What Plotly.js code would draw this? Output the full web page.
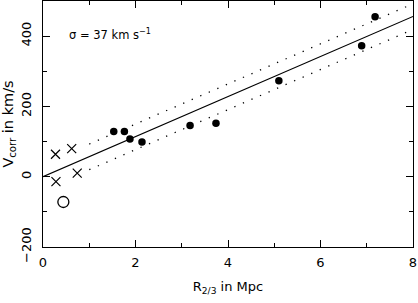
<!DOCTYPE html>
<html>
<head>
<meta charset="utf-8">
<script src="https://cdn.plot.ly/plotly-3.0.1.min.js"></script>
<style>
  html, body { margin: 0; padding: 0; background: #fff; }
  #plot { width: 418px; height: 303px; }
</style>
</head>
<body>
<div id="plot"></div>
<script>
  // filled circles
  var dotR = [1.53, 1.76, 1.88, 2.14, 3.18, 3.74, 5.10, 6.89, 7.18];
  var dotV = [129, 129, 107, 99, 146, 152, 273, 373, 455];

  // crosses
  var crossR = [0.27, 0.62, 0.28, 0.74];
  var crossV = [64, 80, -14, 10];

  // open circle
  var openR = [0.44];
  var openV = [-72];

  // fit line and +/- sigma band
  var fitR = [0, 8];
  var fitV = [0, 456];
  var upR = [1, 8];
  var upV = [93, 492];
  var loR = [1, 8];
  var loV = [20, 419];

  var font = 'DejaVu Sans, Verdana, sans-serif';

  var traces = [
    {x: fitR, y: fitV, mode: 'lines', line: {color: '#000', width: 1.1}},
    {x: upR, y: upV, mode: 'lines', line: {color: '#000', width: 1.3, dash: '1.3px,8px'}},
    {x: loR, y: loV, mode: 'lines', line: {color: '#000', width: 1.3, dash: '1.3px,8px'}},
    {x: dotR, y: dotV, mode: 'markers', marker: {symbol: 'circle', size: 7.5, color: '#000'}},
    {x: crossR, y: crossV, mode: 'markers',
     marker: {symbol: 'x-thin-open', size: 9, color: '#000', line: {color: '#000', width: 1.2}}},
    {x: openR, y: openV, mode: 'markers',
     marker: {symbol: 'circle-open', size: 11, color: '#000', line: {color: '#000', width: 1.3}}}
  ];

  var axisCommon = {
    showgrid: false, zeroline: false,
    showline: true, linecolor: '#000', linewidth: 1, mirror: 'ticks',
    ticks: 'inside', ticklen: 7, tickcolor: '#000', tickwidth: 1,
    tickfont: {family: font, size: 13, color: '#000'}
  };

  var layout = {
    width: 418, height: 303,
    margin: {l: 43, r: 5, t: 1, b: 56},
    paper_bgcolor: '#fff', plot_bgcolor: '#fff',
    showlegend: false,
    font: {family: font, color: '#000'},
    xaxis: Object.assign({}, axisCommon, {
      range: [0, 8], dtick: 2, ticklabelstandoff: 3,
      minor: {dtick: 1, ticks: 'inside', ticklen: 4, tickcolor: '#000', tickwidth: 1},
      title: {text: 'R<sub>2/3</sub> in Mpc', font: {family: font, size: 13, color: '#000'}, standoff: 13}
    }),
    yaxis: Object.assign({}, axisCommon, {
      range: [-200, 500], dtick: 200, tickangle: -90, ticklabelstandoff: 6,
      minor: {dtick: 100, ticks: 'inside', ticklen: 4, tickcolor: '#000', tickwidth: 1},
      title: {text: 'V<sub>corr</sub> in km/s', font: {family: font, size: 14.5, color: '#000'}, standoff: 4}
    }),
    annotations: [{
      x: 0.52, y: 404, xref: 'x', yref: 'y', xanchor: 'left', yanchor: 'middle',
      text: '\u03c3 = 37 km s<sup>\u22121</sup>', showarrow: false,
      font: {family: font, size: 11.5, color: '#000'}
    }]
  };

  Plotly.newPlot('plot', traces, layout, {displayModeBar: false, staticPlot: true});
</script>
</body>
</html>
